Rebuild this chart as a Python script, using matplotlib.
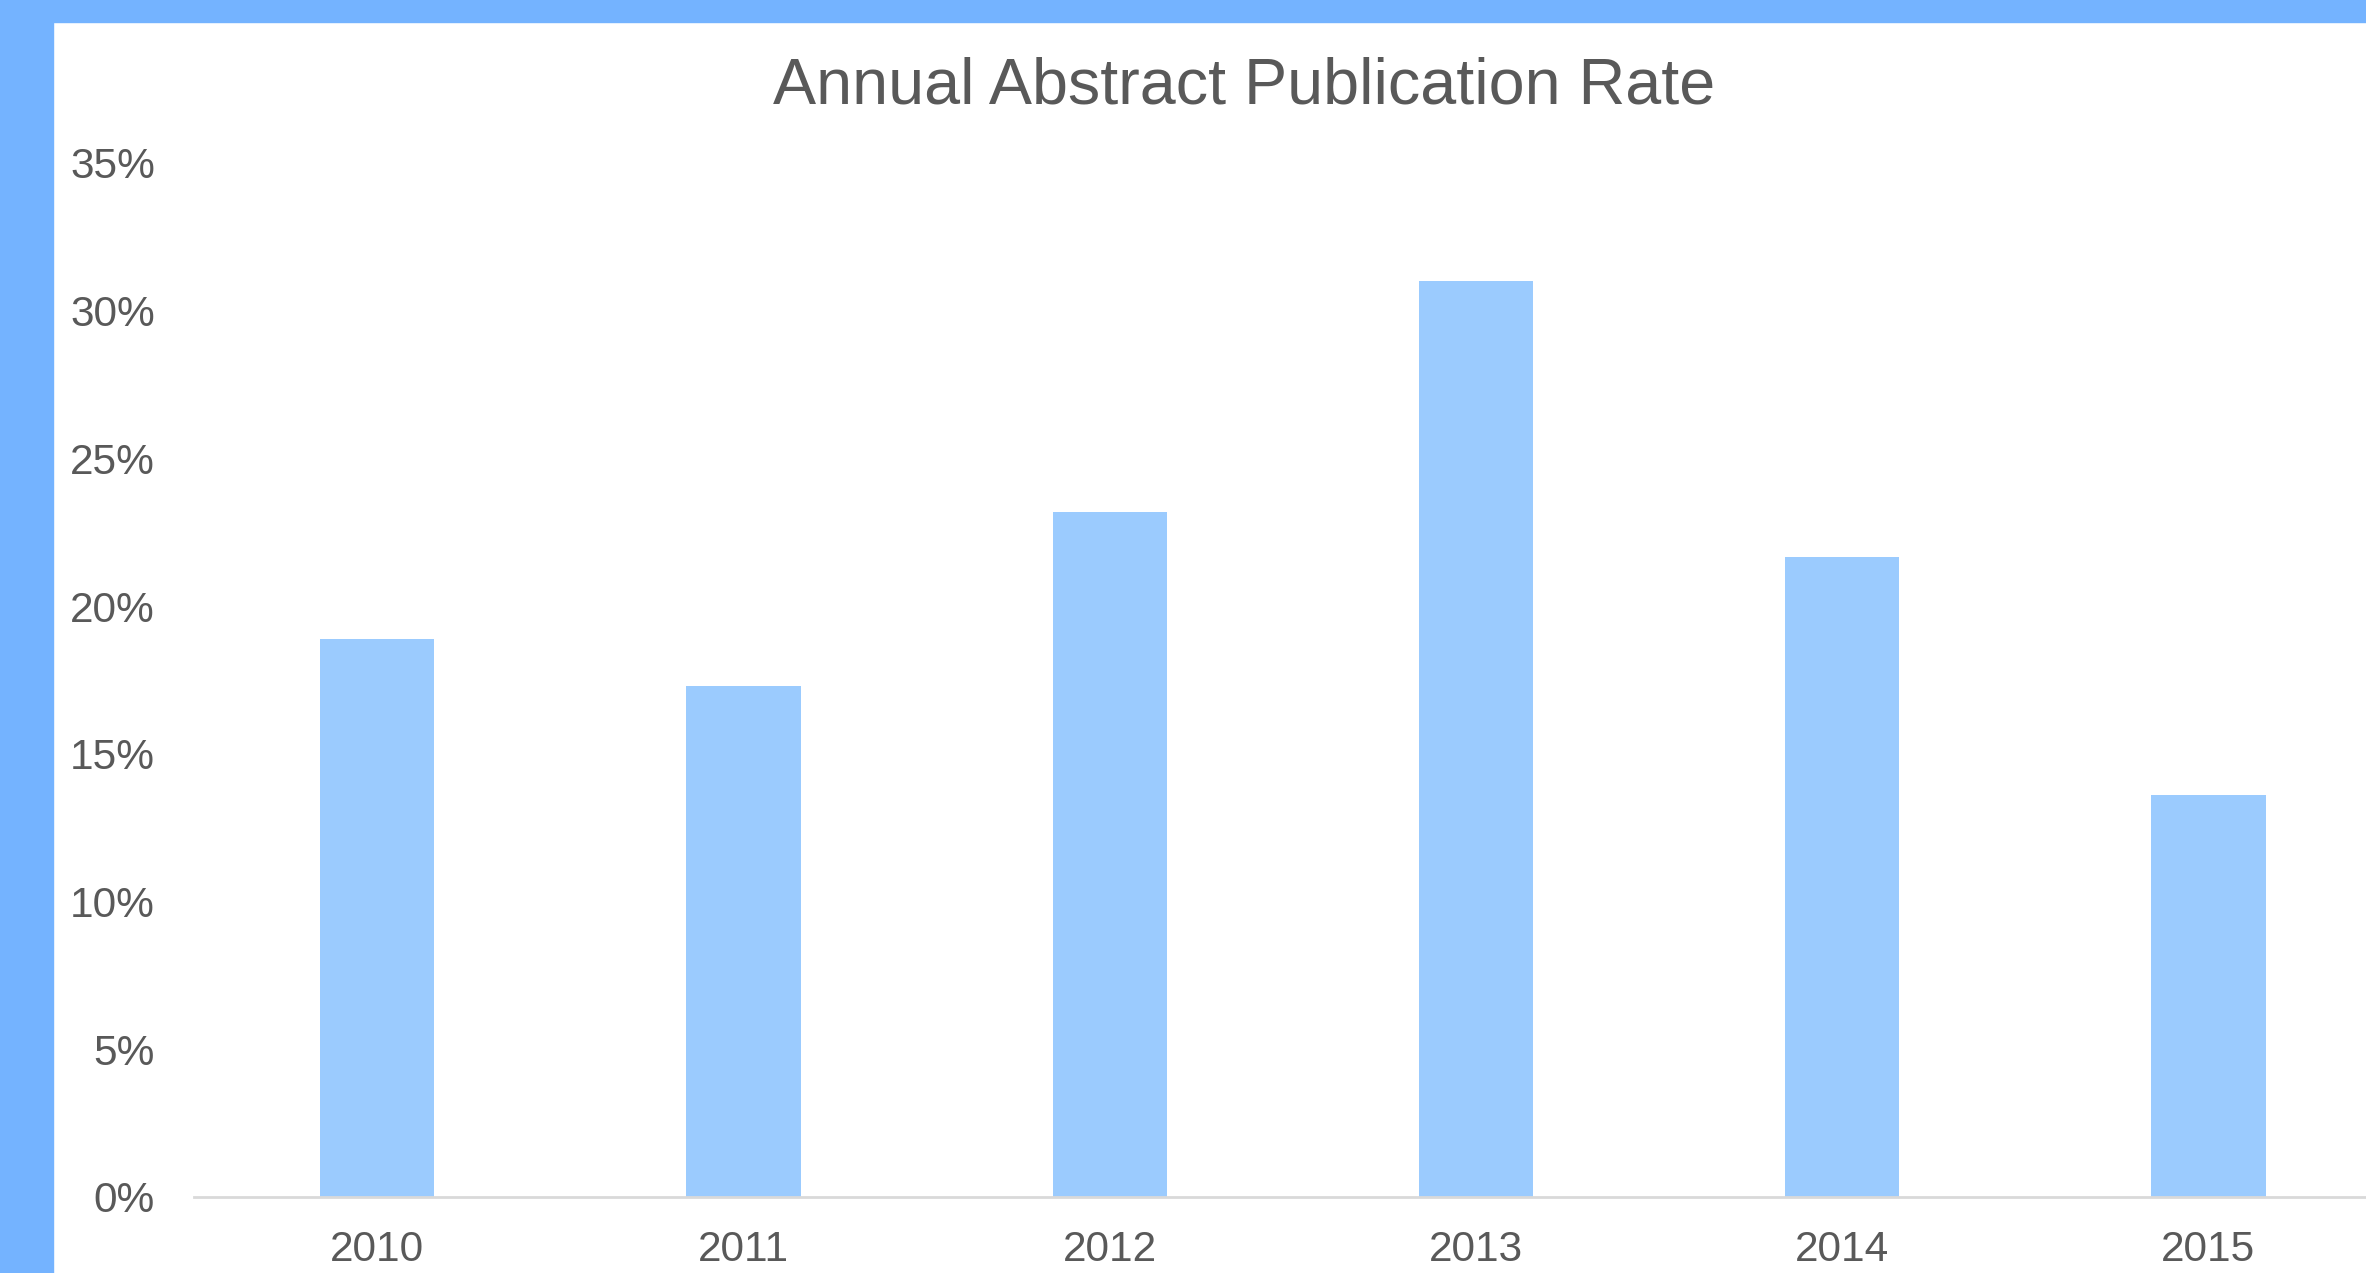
import matplotlib
matplotlib.use("Agg")
import matplotlib.pyplot as plt
from matplotlib.patches import Rectangle
from matplotlib.ticker import FuncFormatter

years = ["2010", "2011", "2012", "2013", "2014", "2015"]
rates = [0.1888, 0.1730, 0.2318, 0.3100, 0.2168, 0.1360]
y_ticks = [0.0, 0.05, 0.10, 0.15, 0.20, 0.25, 0.30, 0.35]
title = "Annual Abstract Publication Rate"

W, H, DPI = 2366, 1273, 100
plt.rcParams['font.family'] = ['Liberation Sans', 'DejaVu Sans']
fig = plt.figure(figsize=(W / DPI, H / DPI), dpi=DPI)
fig.patch.set_facecolor("white")

# blue frame on left and top
border = "#74B3FF"
fig.patches.append(Rectangle((0, 0), 53 / W, 1, transform=fig.transFigure, color=border, zorder=0))
fig.patches.append(Rectangle((0, 1 - 22 / H), 1, 22 / H, transform=fig.transFigure, color=border, zorder=0))

left = 194 / W
bottom = 1 - 1197 / H
top = 1 - 163 / H
width = (2391.6 - 194) / W
ax = fig.add_axes([left, bottom, width, top - bottom])
ax.set_facecolor("none")

x = list(range(len(years)))
ax.bar(x, rates, width=0.312, color="#9BCBFE", zorder=2)

ax.set_xlim(-0.5, len(years) - 0.5)
ax.set_ylim(0, 0.35)
ax.set_yticks(y_ticks)
ax.yaxis.set_major_formatter(FuncFormatter(lambda v, p: f"{v*100:.0f}%"))
ax.set_xticks(x)
ax.set_xticklabels(years)

txtc = "#595959"
ax.tick_params(axis="both", length=0, labelsize=30.5, labelcolor=txtc)
ax.tick_params(axis="y", pad=28)
ax.tick_params(axis="x", pad=24)

for s in ["top", "right", "left"]:
    ax.spines[s].set_visible(False)
ax.spines["bottom"].set_color("#D9D9D9")
ax.spines["bottom"].set_linewidth(2)
ax.spines["bottom"].set_zorder(3)

fig.text(1244 / W, 1 - 103 / H, title, ha="center", va="baseline",
         fontsize=46.5, color=txtc)

fig.savefig("out.png", dpi=DPI)
